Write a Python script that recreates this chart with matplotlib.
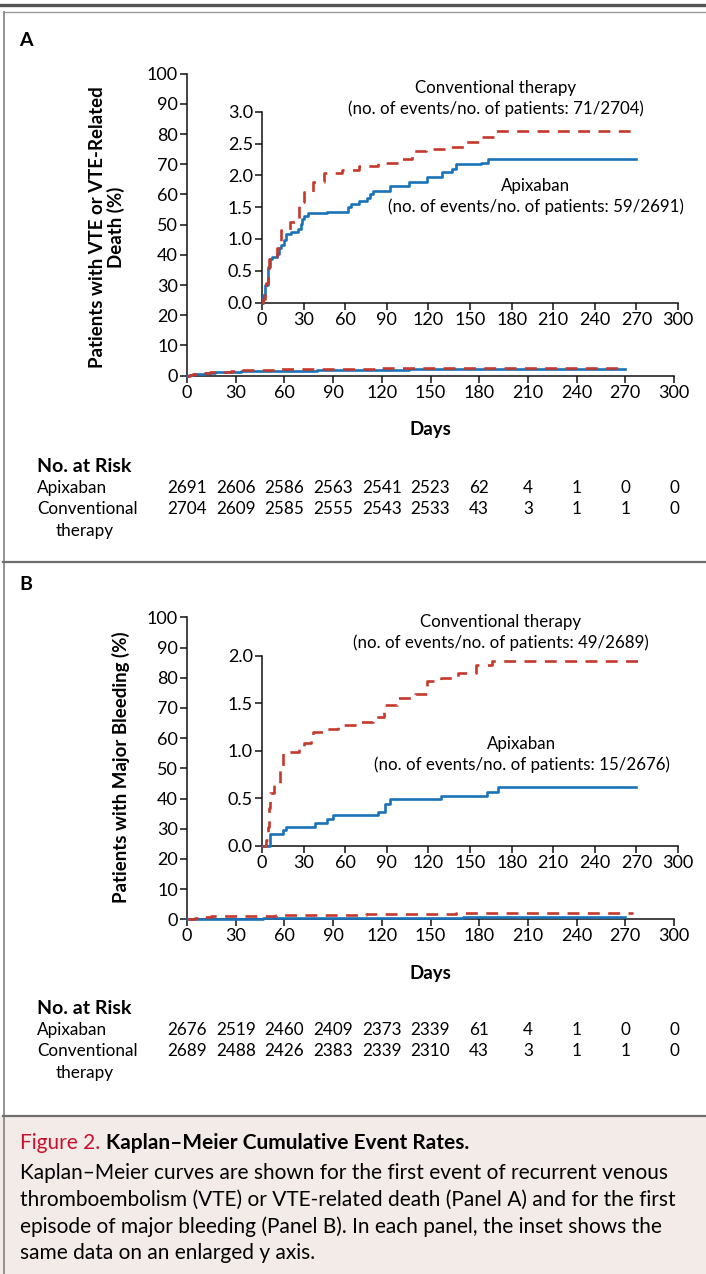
import matplotlib
matplotlib.use("Agg")
import matplotlib.pyplot as plt
import matplotlib.transforms as mtransforms
from matplotlib.patches import Rectangle
from matplotlib.lines import Line2D

plt.rcParams['font.family'] = ['Lato', 'DejaVu Sans']

W, H = 706, 1274
RED = '#c4392b'
BLUE = '#1a72b8'

# Panel A: recurrent VTE or VTE-related death (cumulative %)
a_conv_days = [0, 1, 2, 3, 4, 5, 8, 11, 14, 20, 25, 27, 30, 37, 45, 58, 70, 84, 100, 108, 118, 136, 146, 158, 168, 270]
a_conv_vals = [0, 0.05, 0.15, 0.3, 0.45, 0.68, 0.72, 0.85, 1.14, 1.26, 1.3, 1.58, 1.73, 1.9, 2.04, 2.09, 2.14, 2.19,
               2.25, 2.38, 2.41, 2.45, 2.53, 2.6, 2.7, 2.7]
a_apix_days = [0, 1, 2, 4, 6, 7, 11, 12, 14, 16, 17, 21, 26, 28, 29, 30, 33, 47, 62, 64, 70, 76, 78, 80, 92, 106,
               119, 130, 137, 140, 158, 163, 270]
a_apix_vals = [0, 0.12, 0.28, 0.56, 0.68, 0.72, 0.77, 0.85, 0.9, 0.98, 1.07, 1.11, 1.16, 1.23, 1.31, 1.36, 1.40, 1.43,
               1.5, 1.55, 1.6, 1.65, 1.7, 1.75, 1.83, 1.9, 1.98, 2.05, 2.1, 2.17, 2.2, 2.25, 2.25]

# Panel B: major bleeding (cumulative %)
b_conv_days = [0, 3, 4, 5, 6, 9, 13, 15, 27, 30, 35, 37, 45, 55, 71, 80, 88, 97, 110, 119, 129, 141, 154, 166, 275]
b_conv_vals = [0, 0.06, 0.2, 0.4, 0.55, 0.65, 0.8, 0.99, 1.04, 1.08, 1.15, 1.2, 1.23, 1.27, 1.3, 1.35, 1.48, 1.56,
               1.6, 1.73, 1.77, 1.82, 1.9, 1.94, 1.94]
b_apix_days = [0, 6, 15, 17, 38, 47, 51, 84, 89, 92, 129, 162, 170, 270]
b_apix_vals = [0, 0.12, 0.17, 0.2, 0.24, 0.28, 0.32, 0.36, 0.44, 0.49, 0.52, 0.57, 0.62, 0.62]

risk_days = [0, 30, 60, 90, 120, 150, 180, 210, 240, 270, 300]
a_risk_apix = [2691, 2606, 2586, 2563, 2541, 2523, 62, 4, 1, 0, 0]
a_risk_conv = [2704, 2609, 2585, 2555, 2543, 2533, 43, 3, 1, 1, 0]
b_risk_apix = [2676, 2519, 2460, 2409, 2373, 2339, 61, 4, 1, 0, 0]
b_risk_conv = [2689, 2488, 2426, 2383, 2339, 2310, 43, 3, 1, 1, 0]

a_events = {'conv': '71/2704', 'apix': '59/2691'}
b_events = {'conv': '49/2689', 'apix': '15/2676'}

TICK_FS = 13
NUM_FS = 12.3


def fx(x):
    return x / W


def fy(y):
    return 1 - y / H


def add_axes_px(fig, left, right, top, bottom):
    return fig.add_axes([fx(left), fy(bottom), (right - left) / W, (bottom - top) / H])


def style_axes(ax, ymax, yticks, ylabels):
    ax.set_xlim(0, 300)
    ax.set_ylim(0, ymax)
    ax.set_xticks(range(0, 301, 30))
    ax.set_yticks(yticks)
    ax.set_yticklabels(ylabels)
    for s in ['top', 'right']:
        ax.spines[s].set_visible(False)
    for s in ['left', 'bottom']:
        ax.spines[s].set_linewidth(1.1)
        ax.spines[s].set_color('#111111')
    ax.tick_params(direction='out', length=5, width=1.1, labelsize=TICK_FS, pad=1.5, color='#111111')
    ax.patch.set_alpha(0)
    ax.margins(0)


def draw_curves(ax, conv_d, conv_v, apix_d, apix_v):
    ax.step(apix_d, apix_v, where='post', color=BLUE, lw=1.9, clip_on=False, zorder=3)
    ax.step(conv_d, conv_v, where='post', color=RED, lw=1.9, dashes=(4.5, 3.2), clip_on=False, zorder=4)


def panel(fig, letter, top, main_bottom, inset_top, inset_bottom, inset_max, inset_ticks,
          conv_d, conv_v, apix_d, apix_v, ylabel, ylabel_x, ylabel_y,
          events, conv_txt_y, apix_txt_y, conv_cx, apix_cx, days_y, risk_y, risk_apix, risk_conv):
    fig.text(fx(19), fy(top), letter, fontsize=14, fontweight='bold', va='center', ha='left')

    ax = add_axes_px(fig, 187, 674, main_bottom - 302, main_bottom)
    style_axes(ax, 100, range(0, 101, 10), [str(v) for v in range(0, 101, 10)])
    draw_curves(ax, conv_d, conv_v, apix_d, apix_v)

    ins = add_axes_px(fig, 262, 678, inset_top, inset_bottom)
    style_axes(ins, inset_max, inset_ticks, ['%.1f' % v for v in inset_ticks])
    draw_curves(ins, conv_d, conv_v, apix_d, apix_v)

    fig.text(fx(ylabel_x), fy(ylabel_y), ylabel, rotation=90, fontsize=13.4, fontweight='bold',
             ha='center', va='center', multialignment='center', linespacing=1.1)

    fig.text(fx(conv_cx), fy(conv_txt_y), 'Conventional therapy', fontsize=12.2, ha='center', va='center')
    fig.text(fx(conv_cx), fy(conv_txt_y + 20.5), '(no. of events/no. of patients: %s)' % events['conv'],
             fontsize=12.2, ha='center', va='center')
    fig.text(fx(apix_cx), fy(apix_txt_y), 'Apixaban', fontsize=12.2, ha='center', va='center')
    fig.text(fx(apix_cx), fy(apix_txt_y + 21), '(no. of events/no. of patients: %s)' % events['apix'],
             fontsize=12.2, ha='center', va='center')

    fig.text(fx(430.5), fy(days_y), 'Days', fontsize=13.5, fontweight='bold', ha='center', va='center')

    # number at risk table
    fig.text(fx(37), fy(risk_y), 'No. at Risk', fontsize=14, fontweight='bold', ha='left', va='center')
    fig.text(fx(37), fy(risk_y + 22), 'Apixaban', fontsize=NUM_FS, ha='left', va='center')
    fig.text(fx(37), fy(risk_y + 43.5), 'Conventional', fontsize=NUM_FS, ha='left', va='center')
    fig.text(fx(56), fy(risk_y + 65), 'therapy', fontsize=NUM_FS, ha='left', va='center')
    trans = mtransforms.blended_transform_factory(ax.transData, fig.transFigure)
    for d, n1, n2 in zip(risk_days, risk_apix, risk_conv):
        fig.text(d, fy(risk_y + 22), str(n1), transform=trans, fontsize=NUM_FS, ha='center', va='center')
        fig.text(d, fy(risk_y + 43.5), str(n2), transform=trans, fontsize=NUM_FS, ha='center', va='center')
    return ax


fig = plt.figure(figsize=(W / 100, H / 100), dpi=100)

# frame lines and caption box
fig.patches.append(Rectangle((0, 0), 1, fy(1116), transform=fig.transFigure, facecolor='#f3ebe7',
                             edgecolor='none', zorder=0))
fig.add_artist(Line2D([0, 1], [fy(5), fy(5)], color='#555555', lw=2.4))
fig.add_artist(Line2D([fx(3), 1], [fy(11.5), fy(11.5)], color='#9a9a9a', lw=1.0))
fig.add_artist(Line2D([fx(3.5), fx(3.5)], [0, fy(11.5)], color='#8a8a8a', lw=1.3))
fig.add_artist(Line2D([fx(3), 1], [fy(561.5), fy(561.5)], color='#6e6e6e', lw=1.6))
fig.add_artist(Line2D([fx(3), 1], [fy(1115.5), fy(1115.5)], color='#6e6e6e', lw=1.6))

panel(fig, 'A', 40, 375.7, 111.7, 302.5, 3.0, [0.0, 0.5, 1.0, 1.5, 2.0, 2.5, 3.0],
      a_conv_days, a_conv_vals, a_apix_days, a_apix_vals,
      'Patients with VTE or VTE-Related\nDeath (%)', 107, 227,
      a_events, 88.5, 186, 496, 536, 430, 466, a_risk_apix, a_risk_conv)

panel(fig, 'B', 585, 919.3, 655.7, 845.7, 2.0, [0.0, 0.5, 1.0, 1.5, 2.0],
      b_conv_days, b_conv_vals, b_apix_days, b_apix_vals,
      'Patients with Major Bleeding (%)', 121, 767,
      b_events, 622.5, 743.5, 501, 521.5, 973, 1008, b_risk_apix, b_risk_conv)

# caption
fig_lbl = fig.text(fx(20), fy(1143), 'Figure 2.', color='#c8102e', fontsize=15, ha='left', va='center')
renderer = fig.canvas.get_renderer()
bb = fig_lbl.get_window_extent(renderer)
fig.text(bb.x1 / W + fx(6), fy(1143), 'Kaplan\u2013Meier Cumulative Event Rates.', fontsize=15,
         fontweight='bold', ha='left', va='center')
caption_lines = ["Kaplan\u2013Meier curves are shown for the first event of recurrent venous",
                 "thromboembolism (VTE) or VTE-related death (Panel A) and for the first",
                 "episode of major bleeding (Panel B). In each panel, the inset shows the",
                 "same data on an enlarged y axis."]
for i, line in enumerate(caption_lines):
    fig.text(fx(20), fy(1173 + 26.7 * i), line, fontsize=15, ha='left', va='center')

fig.savefig('out.png', dpi=100)
